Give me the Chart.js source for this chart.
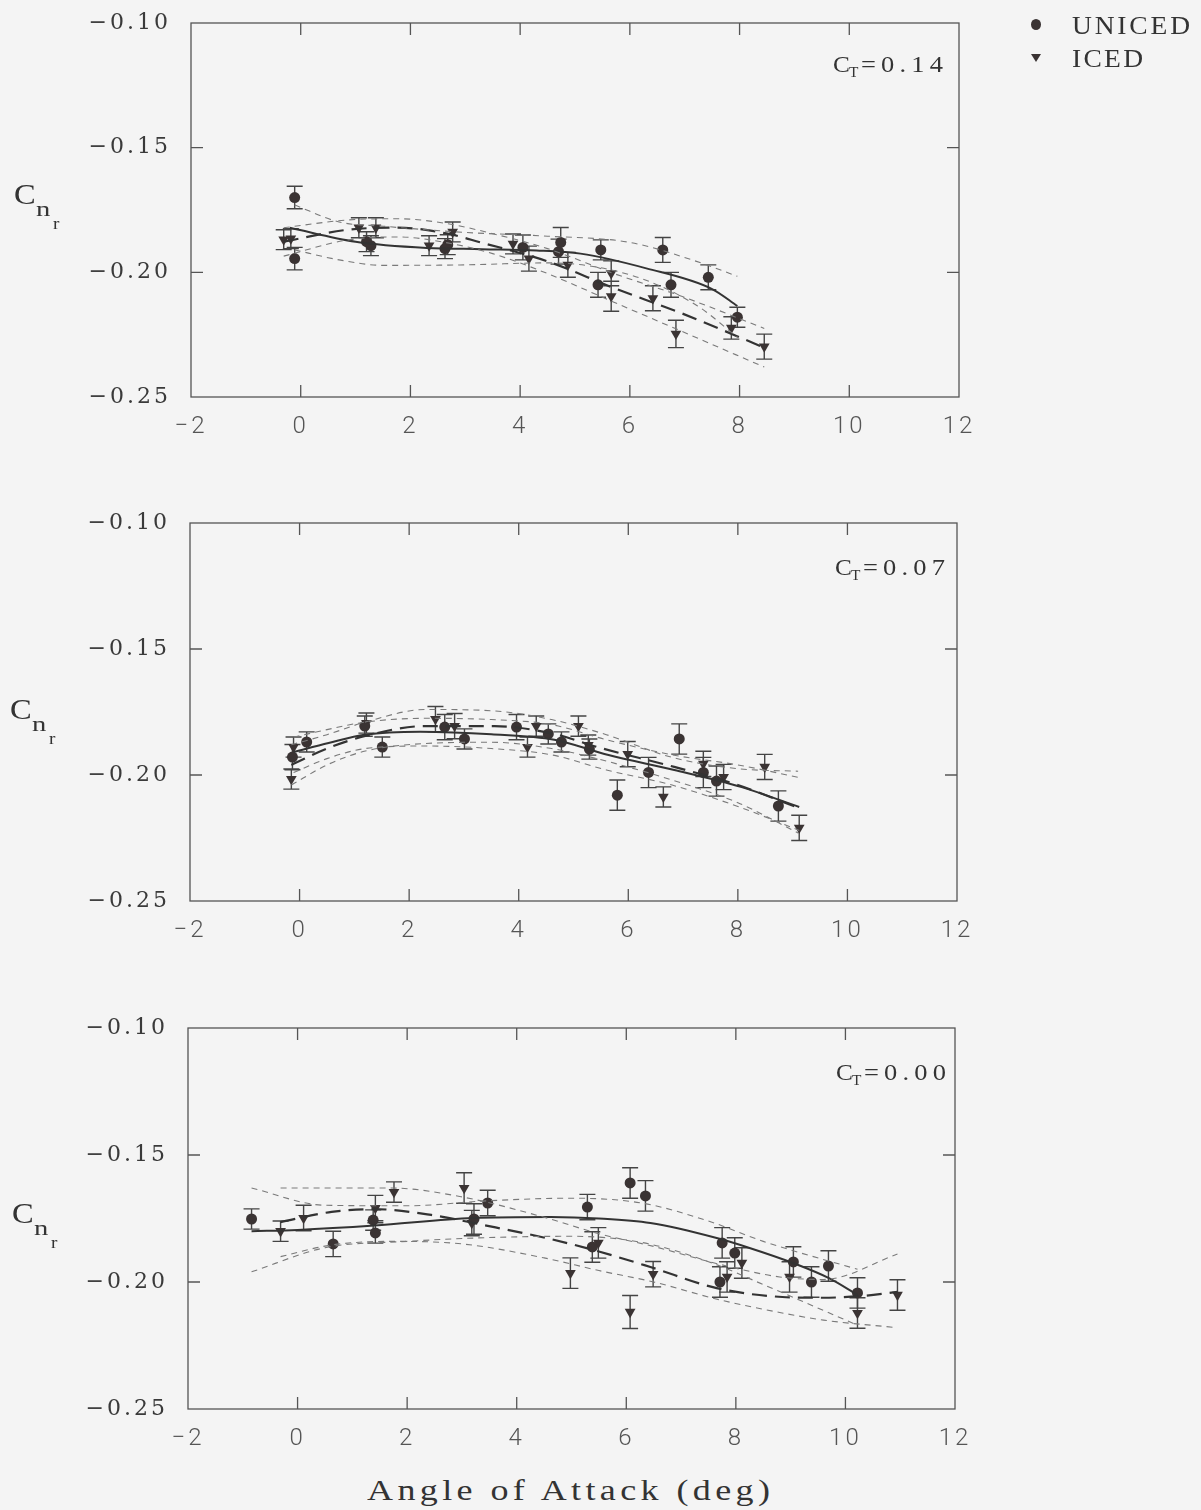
<!DOCTYPE html>
<html>
<head>
<meta charset="utf-8">
<script src="https://cdn.jsdelivr.net/npm/chart.js@4.4.1/dist/chart.umd.min.js"></script>
<style>
  html,body{margin:0;padding:0;}
  body{width:1201px;height:1510px;position:relative;overflow:hidden;background:#f4f4f4;font-family:"Liberation Serif",serif;color:#333;}
  canvas{position:absolute;left:0;}
  .t{position:absolute;white-space:nowrap;line-height:1;font-family:"Liberation Serif",serif;color:#333;transform-origin:0 0;}
  .dot{position:absolute;width:10px;height:11px;border-radius:50%;background:#3a3333;}
  .tri{position:absolute;width:0;height:0;border-left:5px solid transparent;border-right:5px solid transparent;border-top:8px solid #3a3333;}
</style>
</head>
<body>
<canvas id="c1" width="1201" height="460" style="top:0px"></canvas>
<canvas id="c2" width="1201" height="480" style="top:480px"></canvas>
<canvas id="c3" width="1201" height="480" style="top:985px"></canvas>
<div id="labels"></div>
<script>
// ---------- axis ticks ----------
const X_TICKS = [-2, 0, 2, 4, 6, 8, 10, 12];
const Y_TICKS = [-0.25, -0.20, -0.15, -0.10];
const SERIES_NAMES = ['UNICED', 'ICED'];
const PANEL_CT = ['0.14', '0.07', '0.00'];
const X_TITLE = 'Angle of Attack (deg)';

// ---------- panel 1 : C_T = 0.14 ----------
const ct14_uniced_x   = [-0.11, -0.11, 1.20, 1.28, 2.63, 2.68, 4.05, 4.70, 4.74, 5.42, 5.47, 6.60, 6.75, 7.43, 7.96];
const ct14_uniced_y   = [-0.1700, -0.1945, -0.1877, -0.1893, -0.1905, -0.1889, -0.1900, -0.1917, -0.1880, -0.2050, -0.1910, -0.1910, -0.2050, -0.2020, -0.2180];
const ct14_uniced_err = [0.0045, 0.0045, 0.004, 0.004, 0.004, 0.004, 0.005, 0.005, 0.006, 0.005, 0.004, 0.005, 0.005, 0.005, 0.004];
const ct14_iced_x     = [-0.31, -0.18, 1.06, 1.37, 2.34, 2.77, 3.87, 4.16, 4.87, 5.66, 5.66, 6.42, 6.84, 7.85, 8.45];
const ct14_iced_y     = [-0.1869, -0.1865, -0.1821, -0.1821, -0.1893, -0.1838, -0.1886, -0.1945, -0.1970, -0.2004, -0.2096, -0.2104, -0.2247, -0.2223, -0.2298];
const ct14_iced_err   = [0.004, 0.004, 0.004, 0.004, 0.004, 0.004, 0.004, 0.005, 0.005, 0.005, 0.006, 0.005, 0.0055, 0.0045, 0.005];
const ct14_uniced_fit_x = [-0.20, 1.00, 2.30, 3.30, 4.30, 5.10, 6.30, 7.50, 7.96];
const ct14_uniced_fit_y = [-0.1821, -0.1877, -0.1902, -0.1907, -0.1912, -0.1925, -0.1984, -0.2067, -0.2135];
const ct14_iced_fit_x   = [-0.31, 0.86, 1.77, 2.68, 3.28, 4.50, 5.71, 6.93, 8.45];
const ct14_iced_fit_y   = [-0.1877, -0.1829, -0.1821, -0.1845, -0.1880, -0.1956, -0.2063, -0.2163, -0.2302];
const ct14_uniced_band_x  = [-0.11, 0.70, 1.50, 3.00, 4.50, 6.00, 7.20, 7.96];
const ct14_uniced_band_hi = [-0.1730, -0.1798, -0.1815, -0.1840, -0.1855, -0.1880, -0.1955, -0.2016];
const ct14_uniced_band_lo = [-0.1910, -0.1950, -0.1972, -0.1970, -0.1962, -0.2010, -0.2130, -0.2260];
const ct14_iced_band_x  = [-0.31, 0.86, 1.77, 2.68, 3.50, 4.50, 5.71, 6.93, 8.45];
const ct14_iced_band_hi = [-0.1821, -0.1790, -0.1785, -0.1805, -0.1845, -0.1905, -0.2005, -0.2095, -0.2225];
const ct14_iced_band_lo = [-0.1935, -0.1870, -0.1858, -0.1882, -0.1925, -0.2005, -0.2120, -0.2235, -0.2380];

// ---------- panel 2 : C_T = 0.07 ----------
const ct07_uniced_x   = [-0.13, 0.13, 1.19, 1.51, 2.65, 3.01, 3.96, 4.54, 4.78, 5.29, 5.80, 6.37, 6.93, 7.37, 7.61, 8.74];
const ct07_uniced_y   = [-0.1929, -0.1869, -0.1806, -0.1889, -0.1810, -0.1857, -0.1810, -0.1837, -0.1869, -0.1897, -0.2080, -0.1990, -0.1857, -0.1990, -0.2024, -0.2123];
const ct07_uniced_err = [0.005, 0.004, 0.004, 0.004, 0.005, 0.004, 0.005, 0.004, 0.004, 0.004, 0.006, 0.006, 0.006, 0.006, 0.006, 0.006];
const ct07_iced_x     = [-0.11, -0.15, 1.22, 2.48, 2.83, 4.16, 4.32, 5.09, 5.27, 5.99, 6.64, 7.37, 7.74, 8.49, 9.12];
const ct07_iced_y     = [-0.1889, -0.2016, -0.1794, -0.1778, -0.1806, -0.1889, -0.1806, -0.1806, -0.1881, -0.1917, -0.2087, -0.1956, -0.2008, -0.1968, -0.2210];
const ct07_iced_err   = [0.004, 0.004, 0.004, 0.005, 0.005, 0.004, 0.004, 0.004, 0.004, 0.005, 0.004, 0.005, 0.005, 0.005, 0.005];
const ct07_uniced_fit_x = [-0.11, 0.53, 1.19, 2.20, 3.50, 4.65, 5.64, 6.84, 8.07, 9.12];
const ct07_uniced_fit_y = [-0.1909, -0.1873, -0.1840, -0.1828, -0.1838, -0.1860, -0.1921, -0.1980, -0.2048, -0.2127];
const ct07_iced_fit_x   = [-0.15, 0.50, 1.20, 2.28, 3.56, 4.60, 5.50, 6.84, 8.00, 9.10];
const ct07_iced_fit_y   = [-0.1960, -0.1895, -0.1845, -0.1806, -0.1806, -0.1835, -0.1893, -0.1968, -0.2040, -0.2130];
const ct07_uniced_band_x  = [-0.11, 0.50, 1.20, 2.30, 3.50, 4.60, 5.60, 6.80, 8.00, 9.12];
const ct07_uniced_band_hi = [-0.1850, -0.1820, -0.1790, -0.1775, -0.1780, -0.1800, -0.1860, -0.1920, -0.1960, -0.2010];
const ct07_uniced_band_lo = [-0.1990, -0.1935, -0.1895, -0.1885, -0.1895, -0.1920, -0.1980, -0.2040, -0.2125, -0.2220];
const ct07_iced_band_x  = [-0.15, 0.50, 1.20, 2.30, 3.50, 4.60, 5.60, 6.80, 8.00, 9.10];
const ct07_iced_band_hi = [-0.1880, -0.1840, -0.1790, -0.1740, -0.1745, -0.1780, -0.1840, -0.1930, -0.1975, -0.1985];
const ct07_iced_band_lo = [-0.2040, -0.1960, -0.1905, -0.1875, -0.1870, -0.1895, -0.1945, -0.2020, -0.2110, -0.2230];

// ---------- panel 3 : C_T = 0.00 ----------
const ct00_uniced_x   = [-0.84, 0.65, 1.38, 1.42, 3.22, 3.47, 5.29, 5.38, 6.07, 6.35, 7.71, 7.75, 7.98, 9.05, 9.38, 9.69, 10.22];
const ct00_uniced_y   = [-0.1752, -0.1850, -0.1756, -0.1807, -0.1752, -0.1689, -0.1705, -0.1862, -0.1610, -0.1661, -0.2000, -0.1846, -0.1886, -0.1921, -0.2000, -0.1937, -0.2043];
const ct00_uniced_err = [0.004, 0.005, 0.004, 0.004, 0.006, 0.005, 0.005, 0.006, 0.006, 0.006, 0.006, 0.006, 0.006, 0.006, 0.006, 0.006, 0.006];
const ct00_iced_x     = [-0.31, 0.11, 1.42, 1.76, 3.04, 3.18, 4.98, 5.49, 6.07, 6.49, 7.84, 8.11, 8.98, 10.22, 10.95];
const ct00_iced_y     = [-0.1800, -0.1748, -0.1709, -0.1646, -0.1630, -0.1768, -0.1965, -0.1846, -0.2118, -0.1969, -0.1980, -0.1925, -0.1980, -0.2122, -0.2051];
const ct00_iced_err   = [0.004, 0.005, 0.005, 0.004, 0.006, 0.005, 0.006, 0.006, 0.0065, 0.005, 0.006, 0.006, 0.006, 0.006, 0.006];
const ct00_uniced_fit_x = [-0.84, 0.00, 1.40, 3.20, 4.62, 5.50, 6.44, 7.65, 8.25, 9.04, 9.70, 10.22];
const ct00_uniced_fit_y = [-0.1800, -0.1795, -0.1778, -0.1748, -0.1744, -0.1750, -0.1768, -0.1827, -0.1866, -0.1925, -0.1985, -0.2051];
const ct00_iced_fit_x   = [-0.31, 0.62, 1.40, 2.44, 3.40, 4.62, 5.50, 6.44, 7.65, 8.85, 9.58, 10.30, 10.95];
const ct00_iced_fit_y   = [-0.1764, -0.1724, -0.1713, -0.1736, -0.1776, -0.1831, -0.1880, -0.1941, -0.2024, -0.2059, -0.2062, -0.2055, -0.2039];
const ct00_uniced_band_x  = [-0.84, 0.50, 2.00, 3.50, 5.00, 6.30, 7.50, 8.50, 10.22];
const ct00_uniced_band_hi = [-0.1630, -0.1698, -0.1700, -0.1680, -0.1670, -0.1690, -0.1760, -0.1840, -0.1950];
const ct00_uniced_band_lo = [-0.1960, -0.1865, -0.1840, -0.1825, -0.1820, -0.1845, -0.1920, -0.2010, -0.2170];
const ct00_iced_band_x  = [-0.31, 0.60, 1.70, 3.00, 4.50, 5.50, 6.50, 7.70, 8.80, 9.60, 10.95];
const ct00_iced_band_hi = [-0.1630, -0.1630, -0.1630, -0.1665, -0.1745, -0.1810, -0.1860, -0.1930, -0.1980, -0.1990, -0.1890];
const ct00_iced_band_lo = [-0.1900, -0.1855, -0.1840, -0.1850, -0.1905, -0.1955, -0.2000, -0.2070, -0.2120, -0.2150, -0.2180];

// ---------- helpers ----------
const MARK = '#3a3333';
const pts = (xs, ys) => xs.map((x, i) => ({ x: x, y: ys[i] }));
const minus = s => s.replace('-', '\u2212');

function panelDatasets(p) {
  const band = (xs, ys) => ({
    data: pts(xs, ys), showLine: true, pointRadius: 0, borderColor: '#7a7a7a',
    borderWidth: 1.1, borderDash: [6, 5], cubicInterpolationMode: 'monotone', fill: false
  });
  return [
    band(p.ub_x, p.ub_hi), band(p.ub_x, p.ub_lo),
    band(p.ib_x, p.ib_hi), band(p.ib_x, p.ib_lo),
    { data: pts(p.uf_x, p.uf_y), showLine: true, pointRadius: 0, borderColor: '#333',
      borderWidth: 2, cubicInterpolationMode: 'monotone' },
    { data: pts(p.if_x, p.if_y), showLine: true, pointRadius: 0, borderColor: '#333',
      borderWidth: 2.2, borderDash: [15, 8], cubicInterpolationMode: 'monotone' },
    { label: SERIES_NAMES[0], data: pts(p.u_x, p.u_y), errorBars: p.u_err, showLine: false,
      pointStyle: 'circle', pointRadius: 5.5, backgroundColor: MARK, borderColor: MARK, borderWidth: 0 },
    { label: SERIES_NAMES[1], data: pts(p.i_x, p.i_y), errorBars: p.i_err, showLine: false,
      pointStyle: 'triangle', rotation: 180, pointRadius: 6.2, backgroundColor: MARK, borderColor: MARK, borderWidth: 0 }
  ];
}

const framePlugin = {
  id: 'frame',
  beforeDraw(chart) { chart.ctx.letterSpacing = '3px'; },
  beforeDatasetsDraw(chart) {
    const { ctx, chartArea: a, scales: { x, y } } = chart;
    ctx.save();
    ctx.letterSpacing = '0px';
    ctx.strokeStyle = '#555';
    ctx.lineWidth = 1.3;
    ctx.setLineDash([]);
    ctx.strokeRect(a.left, a.top, a.right - a.left, a.bottom - a.top);
    const TL = 12;
    ctx.beginPath();
    X_TICKS.slice(1, -1).forEach(v => {
      const px = x.getPixelForValue(v);
      ctx.moveTo(px, a.bottom); ctx.lineTo(px, a.bottom - TL);
      ctx.moveTo(px, a.top); ctx.lineTo(px, a.top + TL);
    });
    Y_TICKS.slice(1, -1).forEach(v => {
      const py = y.getPixelForValue(v);
      ctx.moveTo(a.left, py); ctx.lineTo(a.left + TL, py);
      ctx.moveTo(a.right, py); ctx.lineTo(a.right - TL, py);
    });
    ctx.stroke();
    // error bars
    ctx.strokeStyle = '#444';
    ctx.lineWidth = 1.4;
    chart.data.datasets.forEach(ds => {
      if (!ds.errorBars) return;
      ctx.beginPath();
      ds.data.forEach((d, i) => {
        const e = ds.errorBars[i];
        const px = x.getPixelForValue(d.x);
        const y1 = y.getPixelForValue(d.y + e), y2 = y.getPixelForValue(d.y - e);
        ctx.moveTo(px, y1); ctx.lineTo(px, y2);
        ctx.moveTo(px - 8, y1); ctx.lineTo(px + 8, y1);
        ctx.moveTo(px - 8, y2); ctx.lineTo(px + 8, y2);
      });
      ctx.stroke();
    });
    ctx.restore();
  }
};

function makeChart(id, p, g) {
  const cv = document.getElementById(id);
  const H = cv.height;
  return new Chart(cv, {
    type: 'scatter',
    data: { datasets: panelDatasets(p) },
    options: {
      responsive: false, animation: false, events: [],
      layout: { padding: { left: 0, right: 1201 - g.right, top: g.top, bottom: H - g.bottom - 50 } },
      plugins: { legend: { display: false }, tooltip: { enabled: false } },
      scales: {
        x: {
          type: 'linear', min: X_TICKS[0], max: X_TICKS[X_TICKS.length - 1],
          afterBuildTicks: s => { s.ticks = X_TICKS.map(v => ({ value: v })); },
          afterFit: s => { s.height = 50; },
          grid: { display: false }, border: { display: false },
          ticks: { callback: v => minus(String(v)), color: '#555', padding: 8,
                   font: { family: 'Roboto', weight: 300, size: 24 } }
        },
        y: {
          type: 'linear', min: Y_TICKS[0], max: Y_TICKS[Y_TICKS.length - 1],
          afterBuildTicks: s => { s.ticks = Y_TICKS.map(v => ({ value: v })); },
          afterFit: s => { s.width = g.left; },
          grid: { display: false }, border: { display: false },
          ticks: { callback: v => minus(v.toFixed(2)), color: '#3a3a3a', padding: 12,
                   font: { family: 'DejaVu Serif', size: 22, lineHeight: 1 } }
        }
      }
    },
    plugins: [framePlugin]
  });
}

makeChart('c1', {
  u_x: ct14_uniced_x, u_y: ct14_uniced_y, u_err: ct14_uniced_err,
  i_x: ct14_iced_x, i_y: ct14_iced_y, i_err: ct14_iced_err,
  uf_x: ct14_uniced_fit_x, uf_y: ct14_uniced_fit_y, if_x: ct14_iced_fit_x, if_y: ct14_iced_fit_y,
  ub_x: ct14_uniced_band_x, ub_hi: ct14_uniced_band_hi, ub_lo: ct14_uniced_band_lo,
  ib_x: ct14_iced_band_x, ib_hi: ct14_iced_band_hi, ib_lo: ct14_iced_band_lo
}, { left: 191, right: 959, top: 19, bottom: 397 });

makeChart('c2', {
  u_x: ct07_uniced_x, u_y: ct07_uniced_y, u_err: ct07_uniced_err,
  i_x: ct07_iced_x, i_y: ct07_iced_y, i_err: ct07_iced_err,
  uf_x: ct07_uniced_fit_x, uf_y: ct07_uniced_fit_y, if_x: ct07_iced_fit_x, if_y: ct07_iced_fit_y,
  ub_x: ct07_uniced_band_x, ub_hi: ct07_uniced_band_hi, ub_lo: ct07_uniced_band_lo,
  ib_x: ct07_iced_band_x, ib_hi: ct07_iced_band_hi, ib_lo: ct07_iced_band_lo
}, { left: 190, right: 957, top: 43, bottom: 421 });

makeChart('c3', {
  u_x: ct00_uniced_x, u_y: ct00_uniced_y, u_err: ct00_uniced_err,
  i_x: ct00_iced_x, i_y: ct00_iced_y, i_err: ct00_iced_err,
  uf_x: ct00_uniced_fit_x, uf_y: ct00_uniced_fit_y, if_x: ct00_iced_fit_x, if_y: ct00_iced_fit_y,
  ub_x: ct00_uniced_band_x, ub_hi: ct00_uniced_band_hi, ub_lo: ct00_uniced_band_lo,
  ib_x: ct00_iced_band_x, ib_hi: ct00_iced_band_hi, ib_lo: ct00_iced_band_lo
}, { left: 188, right: 955, top: 43, bottom: 424 });

// ---------- HTML text labels ----------
const box = document.getElementById('labels');
const mctx = document.createElement('canvas').getContext('2d');
// baseline for Liberation Serif with line-height 1: top + 0.8375*size
function addText(txt, left, baseline, size, opts) {
  opts = opts || {};
  const sx = opts.sx || 1;
  const d = document.createElement('div');
  d.className = 't';
  d.textContent = txt;
  d.style.fontSize = size + 'px';
  d.style.left = left + 'px';
  d.style.top = (baseline - 0.8375 * size) + 'px';
  if (sx !== 1) d.style.transform = 'scaleX(' + sx + ')';
  if (opts.width && txt.length > 1) {
    mctx.font = size + 'px "Liberation Serif"';
    const w = mctx.measureText(txt).width;
    d.style.letterSpacing = Math.max(0, (opts.width / sx - w) / (txt.length - 1)) + 'px';
  }
  box.appendChild(d);
  return d;
}

// y-axis titles  C_{n_r}
[[14, 204], [10, 719], [12, 1223]].forEach(([lx, by]) => {
  addText('C', lx, by, 29, { sx: 1.12 });
  addText('n', lx + 22, by + 12, 22, { sx: 1.3 });
  addText('r', lx + 39, by + 25, 16, { sx: 1.2 });
});

// panel labels  C_T = ...
[[833, 72], [835, 575], [836, 1080]].forEach(([lx, by], k) => {
  addText('C', lx, by, 23, { sx: 1.1 });
  addText('T', lx + 16, by + 6, 14, { sx: 1.1 });
  addText('=' + PANEL_CT[k], lx + 28, by, 23, { width: 82, sx: 1.15 });
});

// legend
const dot = document.createElement('div'); dot.className = 'dot';
dot.style.left = '1031px'; dot.style.top = '19px'; box.appendChild(dot);
const tri = document.createElement('div'); tri.className = 'tri';
tri.style.left = '1031px'; tri.style.top = '54px'; box.appendChild(tri);
addText(SERIES_NAMES[0], 1072, 34, 25, { width: 118, sx: 1.1 });
addText(SERIES_NAMES[1], 1072, 67, 25, { width: 71, sx: 1.1 });

// x title
addText(X_TITLE, 367, 1500, 30, { width: 405, sx: 1.2 });
</script>
</body>
</html>
